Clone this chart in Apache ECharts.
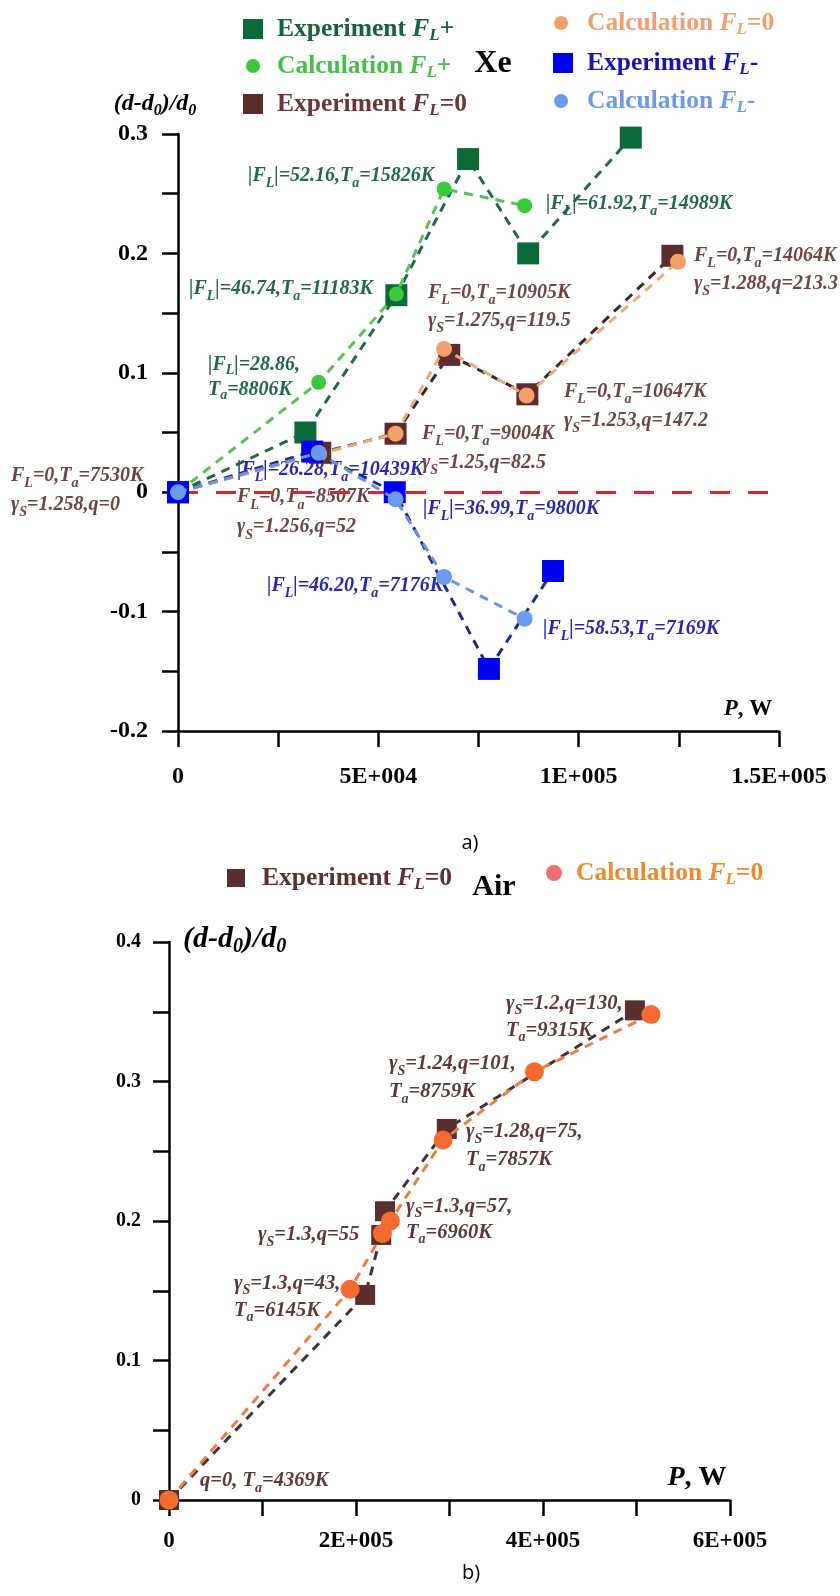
<!DOCTYPE html>
<html>
<head>
<meta charset="utf-8">
<title>Xe / Air</title>
<script src="https://cdn.jsdelivr.net/npm/echarts@6.0.0/dist/echarts.min.js"></script>
<style>
  html, body { margin: 0; padding: 0; background: #fff; }
  #chart { width: 840px; height: 1596px; }
</style>
</head>
<body>
<div id="chart"></div>
<script>
// ---- data: a) Xe ----
const xePowerExpPlus = [0, 31800, 54500, 72400, 87400, 113000]
const xeDiamExpPlus = [0, 0.050, 0.165, 0.279, 0.200, 0.297]
const xePowerCalcPlus = [0, 35100, 54500, 66400, 86500]
const xeDiamCalcPlus = [0, 0.092, 0.166, 0.254, 0.240]
const xePowerExpZero = [0, 35500, 54300, 67700, 87200, 123400]
const xeDiamExpZero = [0, 0.033, 0.049, 0.115, 0.082, 0.198]
const xePowerCalcZero = [0, 35200, 54300, 66400, 87000, 124800]
const xeDiamCalcZero = [0, 0.032, 0.049, 0.120, 0.081, 0.193]
const xePowerExpMinus = [0, 33500, 54100, 77600, 93600]
const xeDiamExpMinus = [0, 0.034, 0.000, -0.148, -0.066]
const xePowerCalcMinus = [0, 35100, 54300, 66400, 86500]
const xeDiamCalcMinus = [0, 0.033, -0.006, -0.071, -0.106]

// ---- data: b) Air ----
const airPowerExp = [0, 209800, 227000, 231000, 297100, 498300]
const airDiamExp = [0, 0.147, 0.190, 0.207, 0.266, 0.351]
const airPowerCalc = [0, 193700, 228200, 236800, 293100, 390800, 515500]
const airDiamCalc = [0, 0.151, 0.191, 0.200, 0.258, 0.307, 0.348]

// ---- tick labels ----
const xeXLabels = ['0', '5E+004', '1E+005', '1.5E+005']
const xeYLabels = ['-0.2', '-0.1', '0', '0.1', '0.2', '0.3']
const airXLabels = ['0', '2E+005', '4E+005', '6E+005']
const airYLabels = ['0', '0.1', '0.2', '0.3', '0.4']

const FONT = '"Liberation Serif", "Times New Roman", serif'

function zip(xs, ys) {
  return xs.map((x, i) => [x, ys[i]])
}

// axis with ticks every `step`, labels only every `labelStep`
function valueAxis(gridIndex, min, max, step, labelStep, labels, fontSize, margin) {
  return {
    type: 'value', gridIndex, min, max, interval: step,
    axisLine: { show: true, onZero: false, lineStyle: { color: '#000', width: 2.5 } },
    axisTick: { show: true, length: 16, lineStyle: { color: '#000', width: 2.5 } },
    splitLine: { show: false },
    axisLabel: {
      margin, color: '#000', fontFamily: FONT, fontWeight: 'bold', fontSize,
      formatter: function (v) {
        let k = Math.round((v - min) / labelStep)
        return Math.abs(v - min - k * labelStep) < step * 1e-3 ? labels[k] : ''
      }
    }
  }
}

function lineSeries(name, xs, ys, grid, symbol, size, color, lineColor, z) {
  return {
    name, type: 'line', xAxisIndex: grid, yAxisIndex: grid,
    data: zip(xs, ys),
    symbol, symbolSize: size, showSymbol: true,
    itemStyle: { color, borderWidth: 0 },
    lineStyle: { color: lineColor, width: 3, type: [9, 7] },
    emphasis: { disabled: true }, silent: true, z
  }
}

function subRich(color, size, lh) {
  return {
    i: { fontFamily: FONT, fontStyle: 'italic', fontWeight: 'bold', fontSize: size, color, fill: color, lineHeight: lh },
    s: { fontFamily: FONT, fontStyle: 'italic', fontWeight: 'bold', fontSize: Math.round(size * 0.68), color, fill: color, lineHeight: Math.round(lh * 0.55), verticalAlign: 'bottom' }
  }
}

function legendItem(name, left, centerY, icon, size, pad, text, color, iconColor) {
  return {
    show: true, selectedMode: false, padding: 0,
    left, top: centerY - 15, itemWidth: size, itemHeight: size, icon,
    data: [iconColor ? { name, itemStyle: { color: iconColor } } : name],
    formatter: () => text,
    textStyle: {
      color, fontFamily: FONT, fontWeight: 'bold', fontSize: 25.5, lineHeight: 30,
      padding: [0, 0, 0, pad], rich: subRich(color, 25.5, 30)
    }
  }
}

// free text: x = left edge, y = centre of first line
function note(x, y, lines, color, size, lh) {
  lh = lh || 28
  return {
    type: 'text', x, y: y - lh / 2, silent: true,
    style: {
      text: [].concat(lines).join('\n'),
      fontFamily: FONT, fontStyle: 'italic', fontWeight: 'bold', fontSize: size,
      lineHeight: lh, fill: color, align: 'left', verticalAlign: 'top',
      rich: subRich(color, size, lh)
    }
  }
}

function plain(x, y, text, size, color, opts) {
  return {
    type: 'text', x, y, silent: true,
    style: Object.assign({
      text, fontFamily: FONT, fontWeight: 'bold', fontSize: size, fill: color || '#000',
      align: 'center', verticalAlign: 'middle', lineHeight: size + 6,
      rich: subRich(color || '#000', size, size + 6)
    }, opts || {})
  }
}

const GREEN_TXT = '#21694a'
const BROWN_TXT = '#6e4545'
const BLUE_TXT = '#2727b0'
const AIR_TXT = '#5e3838'
const XE_NOTE = 20
const AIR_NOTE = 20.5

const chart = echarts.init(document.getElementById('chart'))

chart.setOption({
  animation: false,
  backgroundColor: '#fff',
  grid: [
    { left: 178, top: 134, width: 601, height: 597 },
    { left: 169, top: 942, width: 561, height: 558 }
  ],
  xAxis: [
    valueAxis(0, 0, 150000, 25000, 50000, xeXLabels, 24, 34),
    valueAxis(1, 0, 600000, 100000, 200000, airXLabels, 23, 30)
  ],
  yAxis: [
    valueAxis(0, -0.2, 0.3, 0.05, 0.1, xeYLabels, 24, 30),
    valueAxis(1, 0, 0.4, 0.05, 0.1, airYLabels, 20, 28)
  ],
  legend: [
    legendItem('Experiment FL+', 243, 29, 'rect', 20, 9, 'Experiment {i|F}{s|L}+', '#17613b'),
    legendItem('Calculation FL+', 246, 66, 'circle', 14, 12, 'Calculation {i|F}{s|L}+', '#45c045'),
    legendItem('Experiment FL=0', 243, 104, 'rect', 20, 9, 'Experiment {i|F}{s|L}=0', '#6b3535'),
    legendItem('Calculation FL=0', 554, 23, 'circle', 14, 14, 'Calculation {i|F}{s|L}=0', '#f0a070'),
    legendItem('Experiment FL-', 553, 63, 'rect', 20, 9, 'Experiment {i|F}{s|L}-', '#1414b8'),
    legendItem('Calculation FL-', 554, 101, 'circle', 14, 14, 'Calculation {i|F}{s|L}-', '#6a9ae8'),
    legendItem('Air Experiment', 227, 878, 'rect', 18, 12, 'Experiment {i|F}{s|L}=0', '#5a3030'),
    legendItem('Air Calculation', 546, 873, 'circle', 16, 9, 'Calculation {i|F}{s|L}=0', '#ea8b30', '#f07070')
  ],
  series: [
    Object.assign(lineSeries('Experiment FL=0', xePowerExpZero, xeDiamExpZero, 0, 'rect', 22, '#5c2b2b', '#3b2828', 2), {
      markLine: {
        silent: true, symbol: 'none', z: 1, label: { show: false },
        lineStyle: { color: '#d8262a', width: 3, type: [20, 18] },
        data: [{ yAxis: 0 }]
      }
    }),
    lineSeries('Calculation FL=0', xePowerCalcZero, xeDiamCalcZero, 0, 'circle', 16, '#f4a06c', '#f2aa7c', 3),
    lineSeries('Experiment FL+', xePowerExpPlus, xeDiamExpPlus, 0, 'rect', 22, '#0b6a38', '#1f6a45', 4),
    lineSeries('Calculation FL+', xePowerCalcPlus, xeDiamCalcPlus, 0, 'circle', 15, '#3cc83c', '#55c455', 5),
    lineSeries('Experiment FL-', xePowerExpMinus, xeDiamExpMinus, 0, 'rect', 22, '#0000f0', '#1b2a8e', 6),
    lineSeries('Calculation FL-', xePowerCalcMinus, xeDiamCalcMinus, 0, 'circle', 16, '#6a9af0', '#6d93d8', 7),
    lineSeries('Air Experiment', airPowerExp, airDiamExp, 1, 'rect', 20, '#5a2e2e', '#4a2f2f', 2),
    lineSeries('Air Calculation', airPowerCalc, airDiamCalc, 1, 'circle', 19, '#f56b2f', '#f07b45', 3)
  ],
  graphic: {
    elements: [
      // a) Xe
      plain(493, 64, 'Xe', 32),
      plain(155, 104, '{i|(d-d}{s|0}{i|)/d}{s|0}', 24),
      plain(748, 709, '{i|P}, W', 23),
      note(248, 176, '|F{s|L}|=52.16,T{s|a}=15826K', GREEN_TXT, XE_NOTE),
      note(546, 204, '|F{s|L}|=61.92,T{s|a}=14989K', GREEN_TXT, XE_NOTE),
      note(189, 289, '|F{s|L}|=46.74,T{s|a}=11183K', GREEN_TXT, XE_NOTE),
      note(208, 365, ['|F{s|L}|=28.86,', 'T{s|a}=8806K'], GREEN_TXT, XE_NOTE, 25),
      note(428, 293, ['F{s|L}=0,T{s|a}=10905K', 'γ{s|S}=1.275,q=119.5'], BROWN_TXT, XE_NOTE),
      note(694, 256, ['F{s|L}=0,T{s|a}=14064K', 'γ{s|S}=1.288,q=213.3'], BROWN_TXT, XE_NOTE),
      note(564, 392, ['F{s|L}=0,T{s|a}=10647K', 'γ{s|S}=1.253,q=147.2'], BROWN_TXT, XE_NOTE, 29),
      note(422, 434, ['F{s|L}=0,T{s|a}=9004K', 'γ{s|S}=1.25,q=82.5'], BROWN_TXT, XE_NOTE, 29),
      note(11, 476, ['F{s|L}=0,T{s|a}=7530K', 'γ{s|S}=1.258,q=0'], BROWN_TXT, XE_NOTE, 29),
      note(237, 497, ['F{s|L}=0,T{s|a}=8507K', 'γ{s|S}=1.256,q=52'], BROWN_TXT, XE_NOTE, 30),
      note(237, 470, '|F{s|L}|=26.28,T{s|a}=10439K', BLUE_TXT, XE_NOTE),
      note(423, 509, '|F{s|L}|=36.99,T{s|a}=9800K', BLUE_TXT, XE_NOTE),
      note(267, 586, '|F{s|L}|=46.20,T{s|a}=7176K', BLUE_TXT, XE_NOTE),
      note(543, 629, '|F{s|L}|=58.53,T{s|a}=7169K', BLUE_TXT, XE_NOTE),
      plain(470, 843, 'a)', 20, '#000', { fontWeight: 'normal', fontFamily: '"Open Sans", sans-serif' }),

      // b) Air
      plain(494, 887, 'Air', 30),
      plain(183, 939, '{i|(d-d}{s|0}{i|)/d}{s|0}', 30, '#000', { align: 'left' }),
      plain(697, 1478, '{i|P}, W', 28),
      note(506, 1004, ['γ{s|S}=1.2,q=130,', 'T{s|a}=9315K'], AIR_TXT, AIR_NOTE, 27),
      note(389, 1064, ['γ{s|S}=1.24,q=101,', 'T{s|a}=8759K'], AIR_TXT, AIR_NOTE, 28),
      note(466, 1132, ['γ{s|S}=1.28,q=75,', 'T{s|a}=7857K'], AIR_TXT, AIR_NOTE, 28),
      note(406, 1207, ['γ{s|S}=1.3,q=57,', 'T{s|a}=6960K'], AIR_TXT, AIR_NOTE, 26),
      note(258, 1235, 'γ{s|S}=1.3,q=55', AIR_TXT, AIR_NOTE),
      note(234, 1284, ['γ{s|S}=1.3,q=43,', 'T{s|a}=6145K'], AIR_TXT, AIR_NOTE, 27),
      note(200, 1481, 'q=0, T{s|a}=4369K', AIR_TXT, AIR_NOTE),
      plain(471, 1573, 'b)', 20, '#000', { fontWeight: 'normal', fontFamily: '"Open Sans", sans-serif' })
    ]
  }
})
</script>
</body>
</html>
